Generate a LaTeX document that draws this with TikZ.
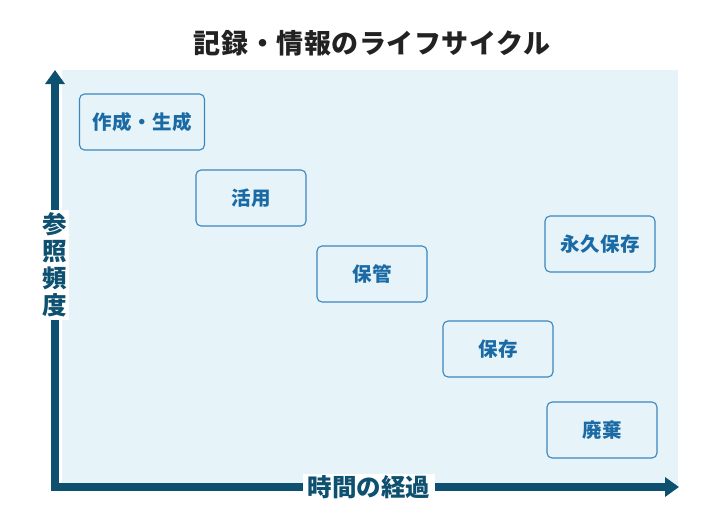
\documentclass[tikz,border=0pt]{standalone}
\usepackage{fontspec}
\newfontfamily\jp{Noto Sans CJK JP}
\newfontfamily\jpwide{Noto Sans CJK JP}[LetterSpace=2]
\usetikzlibrary{arrows.meta, positioning}
\definecolor{axiscol}{HTML}{0D5070}
\definecolor{bgcol}{HTML}{E6F3F8}
\definecolor{boxline}{HTML}{3A86BF}
\definecolor{boxtext}{HTML}{1A6AA5}
\definecolor{titlecol}{HTML}{222222}

\begin{document}
\begin{tikzpicture}[
    x=1pt, y=-1pt,
    stage/.style={rectangle, rounded corners=5pt, draw=boxline, line width=1.1pt, fill=bgcol, minimum width=110pt, minimum height=56pt, align=center, text=boxtext, font=\jpwide\bfseries\fontsize{19.5}{22}\selectfont},
    axis/.style={line width=8pt, draw=axiscol, line join=miter, {Triangle[length=14pt, width=19pt]}-{Triangle[length=14pt, width=19pt]}},
    axis_label/.style={fill=white, text=axiscol, font=\jp\bfseries\fontsize{24.5}{27}\selectfont, align=center},
    title/.style={text=titlecol, font=\jpwide\bfseries\fontsize{27}{30}\selectfont}
]
    \useasboundingbox (0,0) rectangle (720,525);

    % ========== Background ==========
    \fill[bgcol] (62,70) rectangle (678,487);

    % Title
    \node[title] (title) at (372,43) {記録・情報のライフサイクル};

    % ========== Axes ==========
    \coordinate (y_top) at (55,70);
    \coordinate (origin) at (55,487);
    \coordinate (x_end) at (679,487);
    \draw[axis] (y_top) -- (origin) -- (x_end);

    % Axis labels
    \node[axis_label, inner xsep=2pt, inner ysep=3pt] (y_label) at (55,265) {参\\照\\頻\\度};
    \node[axis_label, inner xsep=5pt, inner ysep=1pt] (x_label) at (369,487) {時間の経過};

    % ========== Stages ==========
    \node[stage, minimum width=125pt] (create) at (142,122) {作成・生成};
    \node[stage] (use) at (251,198) {活用};
    \node[stage] (keep) at (372,274) {保管};
    \node[stage] (store) at (498,349) {保存};
    \node[stage] (archive) at (600,244) {永久保存};
    \node[stage] (dispose) at (602,430) {廃棄};

\end{tikzpicture}
\end{document}
